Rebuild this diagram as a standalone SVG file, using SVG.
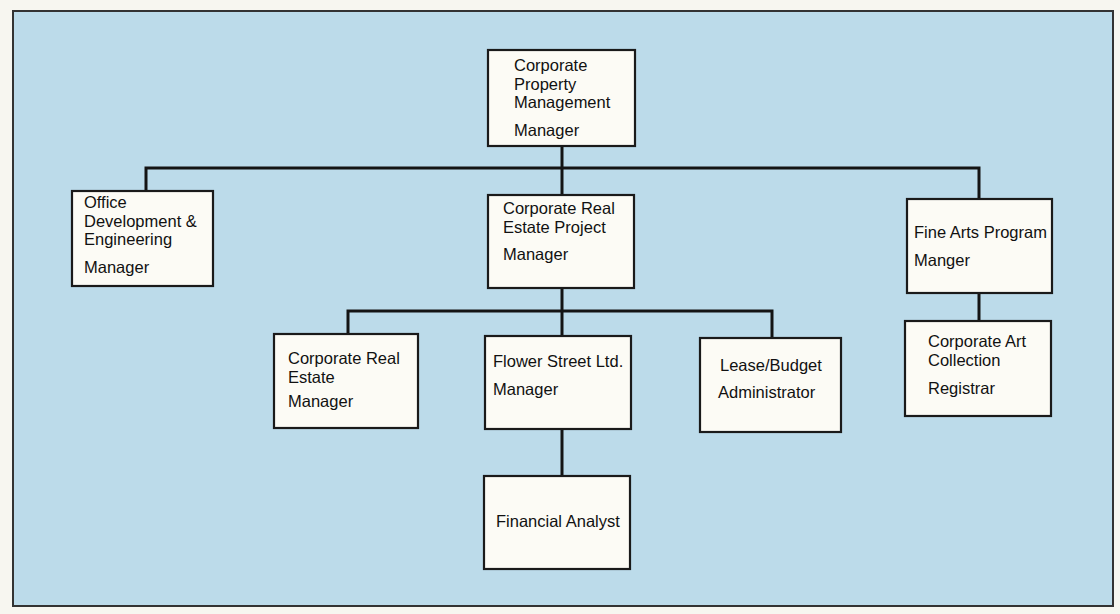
<svg xmlns="http://www.w3.org/2000/svg" width="1120" height="614" viewBox="0 0 1120 614">
<style>
.node rect{fill:#fcfbf5;stroke:#1a1a1a;stroke-width:2.2}
.node text{font-family:"Liberation Sans",Arial,sans-serif;font-size:16.5px;fill:#111}
#connectors path{fill:none;stroke:#141414;stroke-width:3;stroke-linejoin:miter}
</style>
<rect x="0" y="0" width="1120" height="614" fill="#f7f6f0"/>
<rect id="frame" x="13" y="11" width="1100" height="595" fill="#bcdbea" stroke="#333" stroke-width="2"/>
<g id="connectors">
<path d="M562 146 V195"/>
<path d="M146 191 V168 H979 V199"/>
<path d="M979 293 V321"/>
<path d="M562 288 V336"/>
<path d="M348 334 V311 H772 V338"/>
<path d="M562 429 V476"/>
</g>
<g id="n-cpm" class="node">
<rect x="488" y="50" width="147" height="96"/>
<text x="514" y="71">Corporate</text>
<text x="514" y="90">Property</text>
<text x="514" y="108">Management</text>
<text x="514" y="136">Manager</text>
</g>
<g id="n-ode" class="node">
<rect x="72" y="191" width="141" height="95"/>
<text x="84" y="208">Office</text>
<text x="84" y="227">Development &amp;</text>
<text x="84" y="245">Engineering</text>
<text x="84" y="273">Manager</text>
</g>
<g id="n-crep" class="node">
<rect x="488" y="195" width="146" height="93"/>
<text x="503" y="214">Corporate Real</text>
<text x="503" y="233">Estate Project</text>
<text x="503" y="260">Manager</text>
</g>
<g id="n-fap" class="node">
<rect x="907" y="199" width="145" height="94"/>
<text x="914" y="238">Fine Arts Program</text>
<text x="914" y="266">Manger</text>
</g>
<g id="n-cac" class="node">
<rect x="905" y="321" width="146" height="95"/>
<text x="928" y="347">Corporate Art</text>
<text x="928" y="366">Collection</text>
<text x="928" y="394">Registrar</text>
</g>
<g id="n-cre" class="node">
<rect x="274" y="334" width="144" height="94"/>
<text x="288" y="364">Corporate Real</text>
<text x="288" y="383">Estate</text>
<text x="288" y="407">Manager</text>
</g>
<g id="n-fsl" class="node">
<rect x="485" y="336" width="146" height="93"/>
<text x="493" y="367">Flower Street Ltd.</text>
<text x="493" y="395">Manager</text>
</g>
<g id="n-lba" class="node">
<rect x="700" y="338" width="141" height="94"/>
<text x="720" y="371">Lease/Budget</text>
<text x="718" y="398">Administrator</text>
</g>
<g id="n-fa" class="node">
<rect x="484" y="476" width="146" height="93"/>
<text x="496" y="527">Financial Analyst</text>
</g>
</svg>
